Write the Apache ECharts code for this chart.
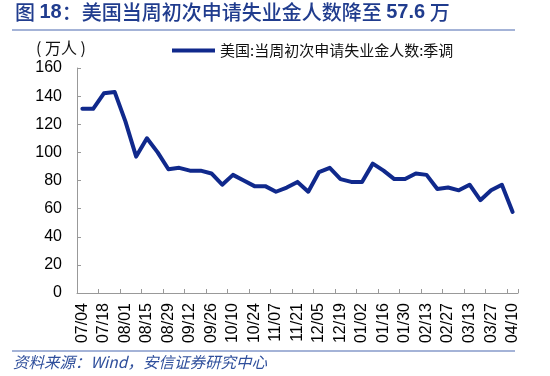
<!DOCTYPE html>
<html>
<head>
<meta charset="utf-8">
<script src="https://cdn.jsdelivr.net/npm/echarts@6/dist/echarts.min.js"></script>
<style>
html,body{margin:0;padding:0;background:#fff;}
#c{width:550px;height:376px;}
</style>
</head>
<body>
<div id="c"></div>
<script>
var categories = ['07/04','07/11','07/18','07/25','08/01','08/08','08/15','08/22','08/29','09/05','09/12','09/19','09/26','10/03','10/10','10/17','10/24','10/31','11/07','11/14','11/21','11/28','12/05','12/12','12/19','12/26','01/02','01/09','01/16','01/23','01/30','02/06','02/13','02/20','02/27','03/06','03/13','03/20','03/27','04/03','04/10'];
var claims = [131,131,142,143,122,97,110,100,88,89,87,87,85,77,84,80,76,76,72,75,79,72,86,89,81,79,79,92,87,81,81,85,84,74,75,73,77,66,73,77,57.6];
var seriesName = '美国:当周初次申请失业金人数:季调';
var yTicks = {min: 0, max: 160, interval: 20};

var chart = echarts.init(document.getElementById('c'), null, {renderer: 'canvas'});
var cjk = '"Noto Sans CJK SC", "Liberation Sans", sans-serif';
var lat = '"Liberation Sans", Arial, sans-serif';
chart.setOption({
  animation: false,
  backgroundColor: '#fff',
  grid: {left: 77, right: 32, top: 68, bottom: 83, containLabel: false},
  legend: {
    data: [{name: seriesName, icon: 'rect'}],
    left: 167, top: 38,
    itemWidth: 43, itemHeight: 4,
    textStyle: {fontFamily: cjk, fontSize: 15, color: '#111'}
  },
  graphic: [
    {type: 'text', left: 15, top: 2, style: {
      text: '{c|图 }{n|18}{c|：美国当周初次申请失业金人数降至 }{n|57.6}{c| 万}',
      rich: {
        c: {fontFamily: cjk, fontSize: 20, fontWeight: 500, fill: '#203c8e'},
        n: {fontFamily: lat, fontSize: 20, fontWeight: 'bold', fill: '#203c8e'}
      }
    }},
    {type: 'line', shape: {x1: 12, y1: 30, x2: 515, y2: 30}, style: {stroke: '#4a68b0', lineWidth: 1.2}},
    {type: 'line', shape: {x1: 12, y1: 351, x2: 515, y2: 351}, style: {stroke: '#4a68b0', lineWidth: 1.2}},
    {type: 'text', left: 13, top: 354, style: {
      text: '资料来源：Wind，安信证券研究中心',
      fontFamily: cjk, fontSize: 15.5, fontStyle: 'italic', fill: '#2f4f9c'
    }},
    {type: 'text', left: 36, top: 40, style: {
      text: '( 万人 )', fontFamily: cjk, fontSize: 16, fill: '#111'
    }}
  ],
  xAxis: {
    type: 'category',
    data: categories,
    boundaryGap: true,
    axisLine: {lineStyle: {color: '#999', width: 1}},
    axisTick: {show: true, inside: true, length: 4, interval: 1, lineStyle: {color: '#999'}},
    axisLabel: {interval: 1, rotate: 90, margin: 10, fontFamily: lat, fontSize: 16, color: '#000'},
    splitLine: {show: false}
  },
  yAxis: {
    type: 'value',
    min: yTicks.min, max: yTicks.max, interval: yTicks.interval,
    axisLine: {show: true, lineStyle: {color: '#999', width: 1}},
    axisTick: {show: true, inside: true, length: 4, lineStyle: {color: '#999'}},
    axisLabel: {margin: 15, fontFamily: lat, fontSize: 16, color: '#000'},
    splitLine: {show: false}
  },
  series: [{
    name: seriesName,
    type: 'line',
    data: claims,
    showSymbol: false,
    symbol: 'none',
    itemStyle: {color: '#10298c'},
    lineStyle: {color: '#10298c', width: 4, join: 'round', cap: 'round'}
  }]
});
</script>
</body>
</html>
